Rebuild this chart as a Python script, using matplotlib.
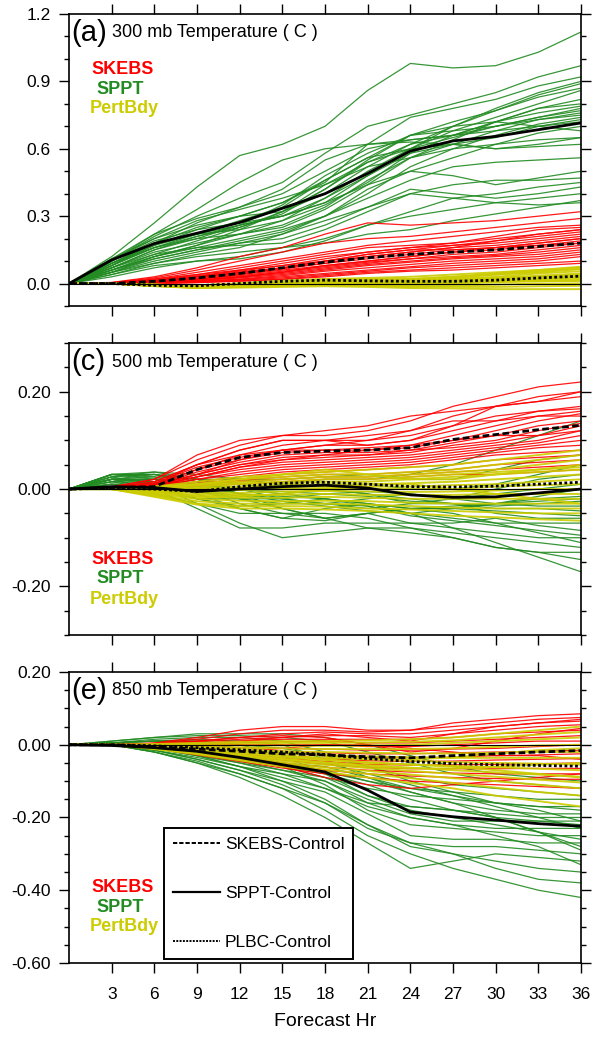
import matplotlib
matplotlib.use("Agg")
import matplotlib.pyplot as plt
from matplotlib.lines import Line2D

plt.rcParams['font.family'] = ['Liberation Sans', 'DejaVu Sans']

hours = [0, 3, 6, 9, 12, 15, 18, 21, 24, 27, 30, 33, 36]
xticks = [3, 6, 9, 12, 15, 18, 21, 24, 27, 30, 33, 36]

# ---------------- 300 mb ----------------
a_sppt = [
    [0, .12, .27, .43, .57, .62, .70, .86, .98, .96, .97, 1.03, 1.12],
    [0, .10, .21, .30, .38, .45, .58, .70, .75, .80, .85, .92, .97],
    [0, .09, .18, .25, .30, .36, .45, .62, .74, .78, .82, .88, .92],
    [0, .08, .16, .22, .28, .34, .46, .56, .66, .70, .78, .85, .90],
    [0, .11, .20, .26, .30, .32, .40, .52, .62, .70, .77, .84, .89],
    [0, .07, .15, .20, .26, .35, .48, .58, .66, .72, .77, .83, .87],
    [0, .10, .19, .24, .27, .30, .38, .50, .60, .68, .74, .80, .86],
    [0, .06, .13, .19, .25, .31, .42, .54, .62, .66, .72, .78, .82],
    [0, .09, .17, .22, .26, .30, .36, .44, .56, .64, .72, .78, .80],
    [0, .08, .18, .27, .34, .40, .50, .60, .64, .66, .72, .76, .79],
    [0, .05, .12, .17, .22, .28, .35, .45, .58, .66, .70, .74, .78],
    [0, .10, .20, .28, .33, .38, .44, .54, .60, .65, .70, .74, .77],
    [0, .07, .14, .18, .22, .26, .34, .46, .56, .62, .68, .73, .76],
    [0, .09, .16, .21, .25, .32, .42, .55, .66, .68, .70, .73, .75],
    [0, .06, .12, .16, .20, .24, .30, .40, .52, .60, .66, .71, .74],
    [0, .08, .17, .24, .30, .36, .46, .56, .60, .62, .65, .70, .73],
    [0, .11, .22, .29, .34, .42, .55, .62, .64, .66, .68, .70, .72],
    [0, .05, .11, .15, .19, .23, .30, .42, .50, .56, .62, .67, .70],
    [0, .07, .15, .21, .26, .30, .36, .48, .60, .70, .72, .70, .68],
    [0, .06, .12, .17, .24, .32, .44, .52, .56, .60, .62, .64, .65],
    [0, .09, .18, .22, .24, .28, .38, .48, .58, .62, .60, .61, .62],
    [0, .04, .09, .13, .16, .22, .30, .38, .46, .52, .54, .55, .56],
    [0, .08, .16, .20, .22, .25, .33, .44, .50, .48, .44, .47, .50],
    [0, .05, .10, .14, .18, .22, .28, .34, .40, .44, .46, .46, .47],
    [0, .03, .07, .10, .11, .14, .19, .26, .32, .38, .40, .43, .45],
    [0, .06, .11, .15, .18, .20, .26, .34, .42, .40, .38, .40, .43],
    [0, .04, .08, .10, .12, .16, .20, .26, .30, .33, .36, .38, .40],
    [0, .07, .13, .16, .17, .18, .24, .32, .40, .38, .36, .35, .36],
    [0, .05, .09, .12, .14, .16, .18, .22, .24, .28, .31, .34, .37],
    [0, .10, .22, .33, .45, .55, .60, .62, .63, .62, .60, .62, .65],
]
a_skebs = [
    [0, .005, .03, .07, .12, .16, .22, .27, .26, .27, .28, .30, .32],
    [0, .004, .025, .06, .10, .14, .18, .20, .21, .23, .25, .27, .29],
    [0, .003, .02, .05, .08, .11, .14, .17, .19, .21, .23, .25, .26],
    [0, .002, .02, .04, .07, .10, .13, .16, .17, .18, .21, .24, .25],
    [0, .002, .015, .04, .06, .09, .12, .14, .16, .18, .20, .22, .24],
    [0, .001, .01, .03, .06, .08, .11, .14, .16, .17, .19, .21, .23],
    [0, .001, .015, .035, .055, .08, .10, .13, .15, .17, .18, .20, .22],
    [0, .001, .01, .025, .05, .07, .10, .12, .14, .16, .17, .19, .21],
    [0, 0, .01, .03, .045, .065, .09, .11, .13, .15, .16, .18, .20],
    [0, 0, .008, .02, .04, .06, .08, .10, .12, .14, .15, .17, .19],
    [0, 0, .006, .02, .035, .055, .075, .095, .11, .13, .14, .16, .18],
    [0, 0, .005, .015, .03, .05, .07, .09, .11, .12, .13, .15, .17],
    [0, 0, .005, .015, .028, .045, .065, .085, .10, .115, .125, .14, .16],
    [0, 0, .004, .012, .025, .04, .06, .08, .095, .11, .12, .13, .15],
    [0, 0, .003, .01, .02, .035, .055, .07, .085, .10, .11, .12, .14],
    [0, 0, .002, .008, .018, .03, .045, .06, .075, .09, .10, .11, .13],
    [0, 0, .002, .006, .015, .025, .04, .055, .07, .08, .09, .10, .12],
    [0, 0, .001, .005, .012, .02, .035, .05, .06, .07, .08, .09, .10],
    [0, 0, 0, .004, .01, .018, .03, .045, .055, .06, .07, .08, .09],
    [0, 0, .01, .03, .05, .07, .09, .12, .14, .16, .19, .22, .24],
    [0, 0, .006, .02, .04, .07, .10, .13, .15, .15, .16, .18, .20],
    [0, 0, .004, .015, .03, .05, .08, .10, .12, .14, .16, .17, .18],
]
a_pert = [
    [0, 0, -.005, -.01, -.005, 0, .005, .01, .02, .03, .045, .06, .075],
    [0, 0, -.005, -.012, -.008, 0, .005, .01, .015, .025, .04, .05, .065],
    [0, 0, -.008, -.015, -.01, 0, .01, .015, .015, .02, .03, .045, .055],
    [0, 0, -.01, -.015, -.005, .005, .01, .01, .01, .015, .025, .035, .045],
    [0, 0, -.01, -.018, -.01, 0, .005, .005, .005, .01, .02, .03, .04],
    [0, 0, -.006, -.01, 0, .01, .015, .02, .02, .02, .025, .03, .035],
    [0, 0, -.012, -.02, -.015, -.005, 0, 0, 0, .005, .015, .02, .03],
    [0, 0, -.008, -.01, 0, .012, .02, .02, .015, .015, .02, .025, .025],
    [0, 0, -.01, -.015, -.01, -.005, 0, -.002, -.005, 0, .005, .01, .015],
    [0, 0, -.005, -.01, -.005, .005, .012, .015, .012, .01, .01, .012, .01],
    [0, 0, -.01, -.02, -.015, -.01, -.005, -.008, -.01, -.01, -.005, 0, 0],
    [0, 0, -.008, -.015, -.012, -.008, -.005, -.01, -.015, -.015, -.015, -.012, -.01],
    [0, 0, -.01, -.018, -.018, -.015, -.012, -.015, -.02, -.022, -.025, -.025, -.025],
    [0, 0, -.005, -.008, 0, .01, .02, .025, .03, .04, .05, .06, .07],
    [0, 0, -.007, -.012, -.005, .005, .01, .015, .02, .03, .04, .055, .065],
    [0, 0, -.01, -.012, -.008, 0, .008, .008, .005, .005, .01, .015, .02],
]
a_skebs_mean = [0, 0, .01, .025, .045, .07, .095, .115, .13, .14, .15, .165, .18]
a_sppt_mean = [0, .105, .178, .224, .272, .335, .40, .49, .59, .635, .655, .685, .715]
a_plbc_mean = [0, 0, -.008, -.01, 0, .01, .015, .012, .01, .01, .015, .025, .033]

# ---------------- 500 mb ----------------
c_sppt = [
    [0, .03, .03, .02, 0, -.02, -.03, -.035, -.05, -.08, -.11, -.14, -.17],
    [0, .02, .02, 0, -.03, -.05, -.05, -.06, -.08, -.10, -.12, -.13, -.145],
    [0, .025, .01, -.03, -.07, -.10, -.09, -.08, -.08, -.09, -.10, -.11, -.12],
    [0, .015, 0, -.04, -.08, -.08, -.07, -.07, -.07, -.08, -.09, -.10, -.10],
    [0, .03, .035, .02, -.01, -.04, -.06, -.05, -.07, -.07, -.06, -.075, -.085],
    [0, .02, .015, -.01, -.04, -.06, -.04, -.03, -.05, -.06, -.07, -.07, -.07],
    [0, .01, -.01, -.03, -.05, -.05, -.06, -.05, -.04, -.04, -.045, -.05, -.055],
    [0, .025, .03, .015, -.01, -.02, -.03, -.04, -.03, -.03, -.04, -.04, -.045],
    [0, .02, .01, -.02, -.035, -.03, -.02, -.03, -.04, -.035, -.03, -.035, -.035],
    [0, .03, .03, .01, -.01, -.025, -.035, -.045, -.05, -.04, -.03, -.025, -.02],
    [0, .015, .01, -.005, -.02, -.03, -.03, -.02, -.01, -.02, -.03, -.02, -.015],
    [0, .02, .02, .01, 0, -.01, -.02, -.03, -.04, -.04, -.03, -.015, 0],
    [0, .03, .025, 0, -.02, -.02, -.01, -.005, -.01, -.02, -.01, 0, .01],
    [0, .02, .03, .02, .01, 0, 0, -.01, -.03, -.02, 0, .02, .03],
    [0, .025, .035, .03, .02, .01, .005, .01, 0, 0, .01, .03, .05],
    [0, .02, .025, .02, .02, .02, .025, .03, .02, .02, .04, .06, .07],
    [0, .015, .02, .01, 0, .01, .02, .02, .03, .05, .08, .11, .14],
    [0, .01, .005, -.02, -.04, -.06, -.065, -.05, -.04, -.05, -.07, -.09, -.11],
    [0, .02, 0, -.02, -.02, -.04, -.06, -.08, -.09, -.10, -.12, -.13, -.13],
    [0, .03, .02, .005, -.01, -.015, -.02, -.035, -.055, -.065, -.075, -.085, -.095],
    [0, .02, .015, 0, -.015, -.01, 0, -.01, -.02, -.03, -.05, -.06, -.06],
    [0, .01, .01, .005, 0, -.005, -.01, -.015, -.025, -.03, -.035, -.03, -.025],
]
c_skebs = [
    [0, .005, .02, .06, .09, .11, .11, .12, .14, .17, .19, .21, .22],
    [0, .004, .02, .07, .10, .11, .12, .13, .15, .16, .17, .18, .20],
    [0, .003, .015, .05, .08, .10, .10, .11, .12, .15, .17, .18, .19],
    [0, .003, .015, .05, .07, .09, .10, .10, .11, .13, .15, .16, .17],
    [0, .002, .01, .04, .07, .08, .09, .09, .10, .12, .14, .16, .165],
    [0, .002, .012, .045, .065, .08, .08, .085, .09, .11, .13, .15, .16],
    [0, .002, .01, .04, .06, .075, .08, .08, .085, .10, .12, .14, .155],
    [0, .001, .008, .035, .055, .07, .075, .075, .08, .095, .11, .13, .14],
    [0, .001, .008, .03, .05, .065, .07, .07, .075, .09, .10, .12, .135],
    [0, .001, .006, .03, .05, .06, .065, .07, .08, .085, .095, .11, .13],
    [0, .001, .006, .025, .045, .055, .06, .065, .07, .08, .09, .10, .12],
    [0, 0, .005, .025, .04, .05, .055, .06, .065, .075, .085, .095, .11],
    [0, 0, .005, .02, .035, .045, .05, .055, .06, .07, .08, .09, .10],
    [0, 0, .004, .02, .03, .04, .045, .05, .055, .065, .075, .085, .09],
    [0, 0, .004, .015, .025, .035, .04, .045, .05, .06, .07, .075, .08],
    [0, 0, .003, .012, .02, .03, .035, .04, .045, .05, .06, .065, .07],
    [0, 0, .003, .01, .018, .025, .03, .03, .035, .04, .05, .055, .06],
    [0, 0, .002, .008, .015, .02, .025, .025, .03, .035, .04, .045, .05],
    [0, 0, .002, .006, .01, .015, .02, .02, .025, .03, .03, .035, .04],
    [0, 0, .01, .05, .08, .10, .10, .09, .10, .13, .17, .19, .20],
    [0, 0, .008, .03, .06, .08, .09, .10, .12, .14, .14, .15, .15],
    [0, 0, .006, .025, .045, .06, .07, .08, .09, .10, .11, .11, .12],
]
c_pert = [
    [0, 0, .005, .015, .025, .03, .035, .04, .045, .05, .06, .07, .08],
    [0, 0, .005, .01, .02, .025, .03, .03, .035, .04, .05, .06, .07],
    [0, 0, .004, .01, .015, .02, .025, .025, .03, .035, .04, .05, .06],
    [0, 0, .003, .008, .012, .015, .02, .02, .025, .03, .035, .04, .05],
    [0, 0, .002, .005, .01, .012, .015, .015, .02, .025, .03, .035, .04],
    [0, 0, 0, .002, .005, .008, .01, .01, .012, .015, .02, .025, .03],
    [0, 0, 0, 0, .002, .004, .006, .005, .005, .008, .01, .015, .02],
    [0, 0, -.002, -.004, -.002, 0, .002, 0, 0, 0, .005, .008, .01],
    [0, 0, -.004, -.008, -.008, -.005, -.004, -.005, -.006, -.005, -.003, 0, 0],
    [0, 0, -.006, -.012, -.012, -.012, -.01, -.012, -.012, -.012, -.01, -.01, -.01],
    [0, 0, -.008, -.016, -.018, -.018, -.016, -.018, -.02, -.02, -.02, -.02, -.02],
    [0, 0, -.01, -.02, -.024, -.025, -.024, -.025, -.028, -.03, -.03, -.03, -.03],
    [0, 0, -.012, -.025, -.03, -.03, -.03, -.032, -.035, -.038, -.04, -.04, -.04],
    [0, 0, -.014, -.03, -.035, -.035, -.036, -.04, -.042, -.045, -.048, -.05, -.05],
    [0, 0, -.016, -.032, -.04, -.04, -.042, -.045, -.05, -.055, -.058, -.062, -.065],
    [0, 0, .003, .01, .02, .03, .04, .03, .02, .02, .03, .04, .045],
    [0, 0, -.005, -.015, -.015, -.01, 0, .01, .01, 0, -.01, -.02, -.03],
]
c_skebs_mean = [0, .003, .005, .04, .065, .075, .078, .08, .085, .102, .112, .122, .131]
c_sppt_mean = [0, .005, .003, -.005, 0, .005, .008, .002, -.012, -.017, -.016, -.008, 0]
c_plbc_mean = [0, .002, 0, -.005, .005, .012, .014, .01, .005, .004, .006, .01, .014]

# ---------------- 850 mb ----------------
e_sppt = [
    [0, .01, .02, .03, .03, .03, .02, 0, -.03, -.06, -.08, -.09, -.10],
    [0, .01, .02, .025, .025, .02, .01, -.02, -.05, -.08, -.10, -.11, -.12],
    [0, .005, .01, .01, 0, -.01, -.03, -.06, -.09, -.11, -.12, -.13, -.14],
    [0, 0, -.005, -.015, -.03, -.05, -.07, -.10, -.12, -.13, -.14, -.15, -.15],
    [0, 0, -.01, -.03, -.05, -.07, -.09, -.12, -.14, -.15, -.16, -.17, -.18],
    [0, 0, -.01, -.02, -.04, -.06, -.09, -.14, -.17, -.18, -.19, -.20, -.20],
    [0, 0, -.015, -.035, -.06, -.08, -.10, -.15, -.19, -.21, -.21, -.21, -.21],
    [0, 0, -.01, -.025, -.05, -.08, -.12, -.17, -.20, -.22, -.23, -.23, -.23],
    [0, .005, 0, -.01, -.03, -.06, -.11, -.18, -.22, -.23, -.24, -.25, -.25],
    [0, 0, -.015, -.04, -.07, -.10, -.13, -.19, -.25, -.26, -.26, -.27, -.27],
    [0, 0, -.02, -.045, -.08, -.12, -.16, -.22, -.27, -.28, -.28, -.29, -.30],
    [0, 0, -.02, -.05, -.09, -.14, -.20, -.27, -.34, -.32, -.30, -.31, -.32],
    [0, 0, -.01, -.03, -.06, -.10, -.15, -.22, -.28, -.30, -.32, -.34, -.35],
    [0, 0, -.015, -.04, -.07, -.11, -.16, -.23, -.27, -.30, -.34, -.37, -.38],
    [0, 0, -.02, -.05, -.08, -.12, -.18, -.25, -.30, -.34, -.37, -.40, -.42],
    [0, 0, -.01, -.025, -.045, -.07, -.10, -.16, -.20, -.22, -.25, -.28, -.33],
    [0, .005, .01, .01, 0, -.03, -.08, -.14, -.18, -.20, -.22, -.24, -.26],
    [0, 0, -.005, -.02, -.04, -.06, -.08, -.11, -.15, -.18, -.20, -.21, -.22],
    [0, .005, .01, .015, .01, 0, -.04, -.09, -.13, -.16, -.18, -.19, -.19],
    [0, .005, .015, .02, .02, .01, -.02, -.06, -.10, -.13, -.16, -.17, -.17],
    [0, 0, -.01, -.03, -.06, -.09, -.12, -.16, -.17, -.18, -.20, -.24, -.28],
    [0, 0, -.005, -.015, -.03, -.05, -.06, -.09, -.12, -.14, -.17, -.20, -.23],
    [0, .005, .01, .005, -.01, -.03, -.05, -.08, -.11, -.14, -.16, -.18, -.21],
    [0, 0, -.01, -.02, -.035, -.055, -.075, -.10, -.13, -.16, -.20, -.24, -.29],
]
e_skebs = [
    [0, 0, .005, .02, .04, .05, .05, .04, .04, .06, .07, .08, .085],
    [0, 0, .004, .015, .03, .04, .04, .035, .04, .05, .06, .07, .075],
    [0, 0, .003, .01, .02, .03, .035, .03, .03, .04, .05, .06, .065],
    [0, 0, .002, .008, .015, .02, .025, .025, .02, .03, .04, .05, .055],
    [0, 0, .001, .005, .01, .015, .015, .015, .015, .02, .03, .035, .04],
    [0, 0, 0, .002, .005, .008, .01, .005, .005, .01, .015, .02, .025],
    [0, 0, 0, 0, 0, 0, 0, -.005, -.005, 0, .005, .01, .01],
    [0, 0, -.002, -.005, -.008, -.01, -.012, -.015, -.015, -.012, -.01, -.005, 0],
    [0, 0, -.003, -.008, -.012, -.018, -.022, -.025, -.025, -.022, -.02, -.018, -.015],
    [0, 0, -.004, -.01, -.016, -.024, -.03, -.034, -.036, -.034, -.03, -.028, -.025],
    [0, 0, -.005, -.012, -.02, -.03, -.038, -.044, -.046, -.045, -.042, -.04, -.038],
    [0, 0, -.006, -.015, -.025, -.036, -.046, -.054, -.056, -.055, -.054, -.052, -.05],
    [0, 0, -.007, -.018, -.03, -.042, -.054, -.062, -.066, -.066, -.066, -.065, -.065],
    [0, 0, -.008, -.02, -.035, -.05, -.062, -.07, -.075, -.078, -.08, -.08, -.08],
    [0, 0, -.009, -.024, -.04, -.056, -.07, -.08, -.086, -.09, -.093, -.095, -.095],
    [0, 0, -.01, -.028, -.046, -.064, -.08, -.09, -.10, -.105, -.11, -.115, -.12],
    [0, 0, 0, 0, .01, .02, .03, .02, .01, .03, .05, .06, .07],
    [0, 0, -.005, -.015, -.02, -.01, 0, 0, -.01, -.02, -.03, -.03, -.04],
    [0, 0, -.008, -.02, -.04, -.06, -.09, -.11, -.12, -.11, -.10, -.09, -.08],
    [0, 0, .002, .01, .02, .025, .02, 0, -.02, -.01, .01, .03, .045],
]
e_pert = [
    [0, 0, .002, .005, .008, .01, .01, .012, .015, .02, .03, .04, .05],
    [0, 0, 0, .002, .004, .005, .005, .006, .008, .012, .02, .028, .035],
    [0, 0, -.002, -.002, -.002, -.002, -.003, -.002, 0, .005, .01, .015, .02],
    [0, 0, -.003, -.006, -.008, -.01, -.012, -.012, -.012, -.01, -.006, -.002, 0],
    [0, 0, -.004, -.01, -.014, -.018, -.02, -.022, -.024, -.024, -.022, -.02, -.02],
    [0, 0, -.005, -.012, -.018, -.024, -.028, -.032, -.034, -.036, -.036, -.036, -.036],
    [0, 0, -.006, -.014, -.022, -.03, -.036, -.04, -.044, -.048, -.05, -.052, -.055],
    [0, 0, -.007, -.016, -.026, -.035, -.042, -.048, -.054, -.058, -.062, -.066, -.07],
    [0, 0, -.008, -.018, -.03, -.04, -.048, -.056, -.063, -.07, -.076, -.082, -.088],
    [0, 0, -.009, -.02, -.033, -.045, -.055, -.064, -.072, -.08, -.088, -.096, -.104],
    [0, 0, -.01, -.022, -.036, -.05, -.062, -.072, -.082, -.092, -.10, -.11, -.12],
    [0, 0, -.011, -.024, -.04, -.055, -.068, -.08, -.092, -.105, -.118, -.13, -.14],
    [0, 0, -.012, -.026, -.043, -.06, -.075, -.09, -.105, -.12, -.14, -.155, -.17],
    [0, 0, -.004, -.01, -.02, -.03, -.04, -.05, -.055, -.06, -.07, -.08, -.09],
    [0, 0, -.006, -.016, -.028, -.04, -.05, -.06, -.065, -.065, -.06, -.055, -.05],
    [0, 0, -.002, -.006, -.012, -.02, -.03, -.038, -.04, -.035, -.025, -.015, -.01],
]
e_skebs_mean = [0, 0, -.005, -.012, -.018, -.025, -.028, -.033, -.036, -.03, -.025, -.02, -.016]
e_sppt_mean = [0, -.002, -.008, -.018, -.035, -.055, -.075, -.125, -.185, -.198, -.207, -.217, -.224]
e_plbc_mean = [0, 0, -.003, -.008, -.014, -.02, -.027, -.038, -.046, -.052, -.055, -.057, -.059]

panel_tags = ["(a)", "(c)", "(e)"]
panel_titles = ["300 mb Temperature ( C )", "500 mb Temperature ( C )", "850 mb Temperature ( C )"]
ylims = [(-0.1, 1.2), (-0.3, 0.3), (-0.6, 0.2)]
yticks = [[0.0, 0.3, 0.6, 0.9, 1.2], [-0.2, 0.0, 0.2], [-0.6, -0.4, -0.2, 0.0, 0.2]]
yticklabels = [["0.0", "0.3", "0.6", "0.9", "1.2"], ["-0.20", "0.00", "0.20"],
               ["-0.60", "-0.40", "-0.20", "0.00", "0.20"]]
yminor = [0.1, 0.05, 0.05]
label_y = [(0.81, 0.743, 0.678), (0.26, 0.192, 0.123), (0.258, 0.189, 0.124)]
legend_labels = ["SKEBS-Control", "SPPT-Control", "PLBC-Control"]

RED = "#ff0000"
GREEN = "#228b22"
YELLOW = "#cccc00"

members = [(a_sppt, a_skebs, a_pert), (c_sppt, c_skebs, c_pert), (e_sppt, e_skebs, e_pert)]
means = [(a_skebs_mean, a_sppt_mean, a_plbc_mean), (c_skebs_mean, c_sppt_mean, c_plbc_mean),
         (e_skebs_mean, e_sppt_mean, e_plbc_mean)]

fig = plt.figure(figsize=(5.93, 10.38), dpi=100)
boxes = [[0.1164, 0.7052, 0.8634, 0.2813],
         [0.1164, 0.3882, 0.8634, 0.2813],
         [0.1164, 0.0723, 0.8634, 0.2803]]

dash_style = (0, (2.4, 1.2))
dot_style = (0, (1.0, 0.9))

for i in range(3):
    ax = fig.add_axes(boxes[i])
    sppt, skebs, pert = members[i]
    for m in sppt:
        ax.plot(hours, m, color=GREEN, lw=0.9, alpha=0.9)
    for m in skebs:
        ax.plot(hours, m, color=RED, lw=0.9, alpha=0.9)
    for m in pert:
        ax.plot(hours, m, color=YELLOW, lw=1.4, alpha=0.9)
    ax.axhline(0, color="black", lw=0.8)
    sk, sp, pl = means[i]
    ax.plot(hours, sk, color="black", lw=2.0, linestyle=dash_style)
    ax.plot(hours, sp, color="black", lw=2.0)
    ax.plot(hours, pl, color="black", lw=2.0, linestyle=dot_style)

    ax.set_xlim(0, 36)
    ax.set_ylim(*ylims[i])
    ax.set_xticks(xticks)
    ax.set_yticks(yticks[i])
    ax.set_yticklabels(yticklabels[i])
    lo, hi = ylims[i]
    n = int(round((hi - lo) / yminor[i]))
    ax.set_yticks([lo + k * yminor[i] for k in range(n + 1)], minor=True)
    ax.tick_params(which="both", direction="out", top=True, right=True, width=1.0,
                   labelsize=12.5)
    ax.tick_params(which="major", length=7)
    ax.tick_params(which="minor", length=3.5)
    ax.tick_params(axis="y", pad=6)
    if i < 2:
        ax.tick_params(axis="x", labelbottom=False)
    else:
        ax.tick_params(axis="x", pad=10)
        ax.set_xlabel("Forecast Hr", fontsize=14, labelpad=8)
    for s in ax.spines.values():
        s.set_linewidth(1.2)

    ax.text(0.004, 0.935, panel_tags[i], transform=ax.transAxes, fontsize=21,
            ha="left", va="center")
    ax.text(0.083, 0.935, panel_titles[i], transform=ax.transAxes, fontsize=13,
            ha="left", va="center")
    ly = label_y[i]
    ax.text(0.105, ly[0], "SKEBS", color=RED, fontweight="bold", fontsize=13,
            transform=ax.transAxes, ha="center", va="center")
    ax.text(0.100, ly[1], "SPPT", color=GREEN, fontweight="bold", fontsize=13,
            transform=ax.transAxes, ha="center", va="center")
    ax.text(0.108, ly[2], "PertBdy", color=YELLOW, fontweight="bold", fontsize=13,
            transform=ax.transAxes, ha="center", va="center")

    if i == 2:
        handles = [Line2D([], [], color="black", lw=1.4, linestyle=(0, (2.2, 1.0))),
                   Line2D([], [], color="black", lw=1.6),
                   Line2D([], [], color="black", lw=1.4, linestyle=(0, (1.0, 0.7)))]
        leg = ax.legend(handles, legend_labels, loc="lower left",
                        bbox_to_anchor=(0.186, 0.014), fontsize=12.5,
                        handlelength=2.7, handletextpad=0.3, labelspacing=1.95,
                        borderpad=0.5, borderaxespad=0, fancybox=False,
                        framealpha=1, edgecolor="black")
        leg.get_frame().set_linewidth(1.4)

fig.savefig("out.png", dpi=100)
